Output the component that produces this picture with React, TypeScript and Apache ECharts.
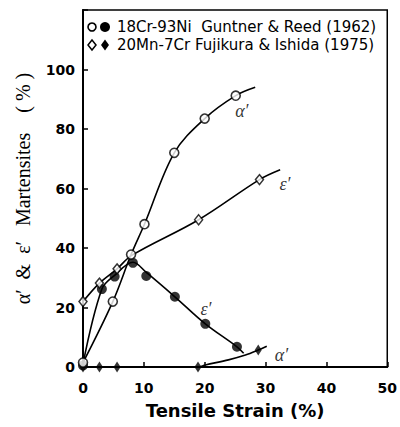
import React, { useEffect, useRef } from "react";
import * as echarts from "echarts";

// Guntner & Reed (1962), 18Cr-9Ni
const grAlphaPoints = [[0, 1.5], [4.9, 22], [7.9, 37.8], [10.1, 48], [15, 72], [20, 83.5], [25.1, 91.2]];
const grAlphaCurve = [[0, 1.5], [4.9, 22], [7.9, 37.8], [10.1, 48], [15, 72], [20, 83.5], [25.1, 91.2], [28.3, 94]];
const grEpsPoints = [[0, 0.5], [3.1, 26.2], [5.2, 30.4], [8.2, 35], [10.4, 30.6], [15.1, 23.6], [20.1, 14.5], [25.3, 6.8]];
const grEpsCurve = [[0, 1], [3.1, 26.2], [5.2, 30.8], [8.2, 35.2], [10.4, 31.8], [15.1, 23.6], [20.1, 14.5], [25.3, 6.8], [26.4, 4.6]];

// Fujikura & Ishida (1975), 20Mn-7Cr
const fiEpsPoints = [[0, 22], [2.7, 28.2], [5.6, 33], [19, 49.5], [29, 63]];
const fiEpsCurve = [[0, 22], [2.7, 28.2], [5.6, 33], [8, 37.5], [19, 49.5], [29, 63], [32.4, 66.3]];
const fiAlphaPoints = [[0, 0], [2.7, 0], [5.6, 0], [18.9, 0], [28.8, 5.7]];
const fiAlphaCurve = [[0, 0], [18.9, 0], [20.1, 0.7], [23.9, 2.4], [26.7, 4.0], [28.8, 5.7], [30.2, 7.0]];

// Curve annotations
const annotations = [
  { name: "α′", value: [26.1, 85.9] },
  { name: "ε′", value: [33.2, 61.6] },
  { name: "ε′", value: [20.2, 19.5] },
  { name: "α′", value: [32.6, 4.0] },
];

const legendLines = [
  "18Cr-93Ni  Guntner & Reed (1962)",
  "20Mn-7Cr Fujikura & Ishida (1975)",
];

const xMin = 0, xMax = 50, xStep = 10;
const yMin = 0, yMax = 120, yStep = 20, yLabelMax = 100;

const SERIF = "'Liberation Serif', 'DejaVu Serif', 'Times New Roman', serif";

export default function App() {
  const ref = useRef<HTMLDivElement>(null);
  useEffect(() => {
    if (!ref.current) return;
    const chart = echarts.init(ref.current, undefined, { renderer: "svg" });
    const curve = (data: number[][]) => ({
      type: "line",
      data,
      smooth: 0.35,
      showSymbol: false,
      symbol: "none",
      lineStyle: { color: "#000", width: 1.6 },
      z: 2,
      silent: true,
    });
    const tickFont = { fontFamily: "DejaVu Sans", fontWeight: "bold", fontSize: 14, color: "#000" };
    chart.setOption({
      animation: false,
      backgroundColor: "#fff",
      grid: { left: 83, right: 10, top: 10, bottom: 60, show: true, borderColor: "#000", borderWidth: 1.5 },
      xAxis: {
        type: "value",
        min: xMin,
        max: xMax,
        interval: xStep,
        name: "Tensile Strain (%)",
        nameLocation: "middle",
        nameGap: 34,
        nameTextStyle: { fontFamily: "DejaVu Sans", fontWeight: "bold", fontSize: 18, color: "#000" },
        axisLine: { lineStyle: { color: "#000", width: 2 } },
        axisTick: { inside: true, length: 5, lineStyle: { color: "#000", width: 1.5 } },
        axisLabel: { ...tickFont, margin: 14 },
        splitLine: { show: false },
      },
      yAxis: {
        type: "value",
        min: yMin,
        max: yMax,
        interval: yStep,
        name: "α′  &  ε′   Martensites    ( % )",
        nameLocation: "middle",
        nameRotate: 90,
        nameGap: 50,
        nameTextStyle: { fontFamily: SERIF, fontSize: 20, color: "#000" },
        axisLine: { lineStyle: { color: "#000", width: 2 } },
        axisTick: { inside: true, length: 5, lineStyle: { color: "#000", width: 1.5 } },
        axisLabel: {
          ...tickFont,
          margin: 8,
          formatter: (v: number) => (v > yLabelMax ? "" : String(v)),
        },
        splitLine: { show: false },
      },
      graphic: [
        { type: "circle", shape: { cx: 92, cy: 27, r: 4 }, style: { fill: "#fff", stroke: "#000", lineWidth: 1.6 } },
        { type: "circle", shape: { cx: 105, cy: 27, r: 5 }, style: { fill: "#000" } },
        { type: "polygon", shape: { points: [[92, 40], [96, 45], [92, 50], [88, 45]] }, style: { fill: "#fff", stroke: "#000", lineWidth: 1.5 } },
        { type: "polygon", shape: { points: [[105, 39.5], [109, 45], [105, 50.5], [101, 45]] }, style: { fill: "#000" } },
        { type: "text", style: { text: legendLines[0], x: 117, y: 27, verticalAlign: "middle", fontFamily: "DejaVu Sans", fontSize: 15, fill: "#000" } },
        { type: "text", style: { text: legendLines[1], x: 117, y: 45, verticalAlign: "middle", fontFamily: "DejaVu Sans", fontSize: 15, fill: "#000" } },
      ],
      series: [
        curve(grAlphaCurve),
        curve(grEpsCurve),
        curve(fiEpsCurve),
        curve(fiAlphaCurve),
        {
          type: "scatter",
          data: grAlphaPoints,
          symbol: "circle",
          symbolSize: 9,
          itemStyle: { color: "#fff", borderColor: "#000", borderWidth: 1.6 },
          z: 5,
        },
        {
          type: "scatter",
          data: grEpsPoints,
          symbol: "circle",
          symbolSize: 10,
          itemStyle: { color: "#000" },
          z: 4,
        },
        {
          type: "scatter",
          data: fiEpsPoints,
          symbol: "diamond",
          symbolSize: [8, 10],
          itemStyle: { color: "#fff", borderColor: "#000", borderWidth: 1.5 },
          z: 5,
        },
        {
          type: "scatter",
          data: fiAlphaPoints,
          symbol: "diamond",
          symbolSize: [7, 11],
          itemStyle: { color: "#000" },
          z: 4,
        },
        {
          type: "scatter",
          data: annotations,
          symbolSize: 1,
          itemStyle: { color: "rgba(0,0,0,0)" },
          label: {
            show: true,
            position: "inside",
            formatter: (p: any) => p.name,
            fontFamily: SERIF,
            fontStyle: "italic",
            fontSize: 18,
            color: "#000",
          },
          z: 6,
          silent: true,
        },
      ],
    });
    return () => chart.dispose();
  }, []);
  return (
    <div
      ref={ref}
      style={{ position: "fixed", left: 0, top: 0, width: 400, height: 427 }}
    />
  );
}
